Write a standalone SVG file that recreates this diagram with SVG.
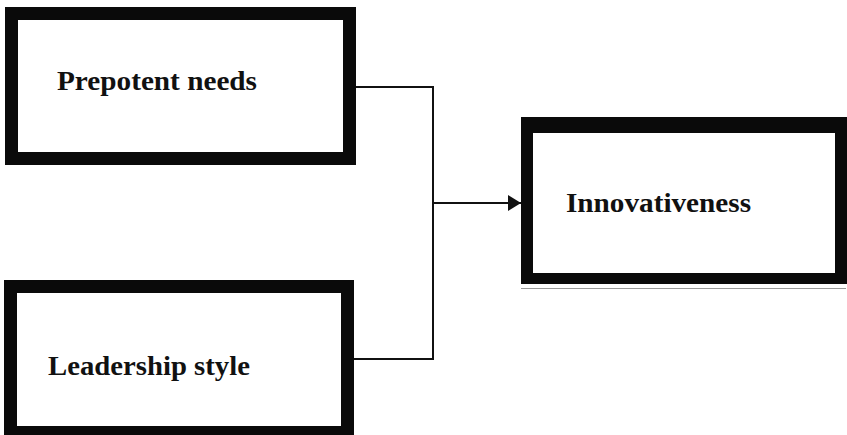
<svg xmlns="http://www.w3.org/2000/svg" width="847" height="435" viewBox="0 0 847 435">
<style>
.box{fill:#fff;stroke:#0a0a0a;stroke-width:13}
.lbl{font-family:"Liberation Serif","Times New Roman",serif;font-weight:bold;font-size:27px;fill:#111}
.conn{fill:none;stroke:#111;stroke-width:2}
</style>
<defs>
<marker id="arr" markerUnits="userSpaceOnUse" markerWidth="14" markerHeight="18" refX="13" refY="9" orient="auto">
<path d="M0,1 L13,9 L0,17 Z" fill="#111"/>
</marker>
</defs>
<rect width="847" height="435" fill="#fff"/>
<g id="connectors">
<path class="conn" d="M356,87 H433 V359 H354"/>
<path class="conn" d="M433,203 H521" marker-end="url(#arr)"/>
</g>
<g id="prepotent">
<rect class="box" x="11.5" y="13.5" width="338" height="145"/>
<text class="lbl" x="57" y="90" textLength="200" lengthAdjust="spacingAndGlyphs">Prepotent needs</text>
</g>
<g id="leadership">
<rect class="box" x="10.5" y="286.5" width="337" height="146"/>
<text class="lbl" x="48" y="375" textLength="202" lengthAdjust="spacingAndGlyphs">Leadership style</text>
</g>
<g id="innovativeness">
<rect x="521" y="117" width="326" height="167" fill="#0a0a0a"/>
<rect x="533" y="133" width="302" height="140" fill="#fff"/>
<line x1="521" y1="288.5" x2="846" y2="288.5" stroke="#999" stroke-width="1"/>
<text class="lbl" x="566" y="212" textLength="185" lengthAdjust="spacingAndGlyphs">Innovativeness</text>
</g>
</svg>
